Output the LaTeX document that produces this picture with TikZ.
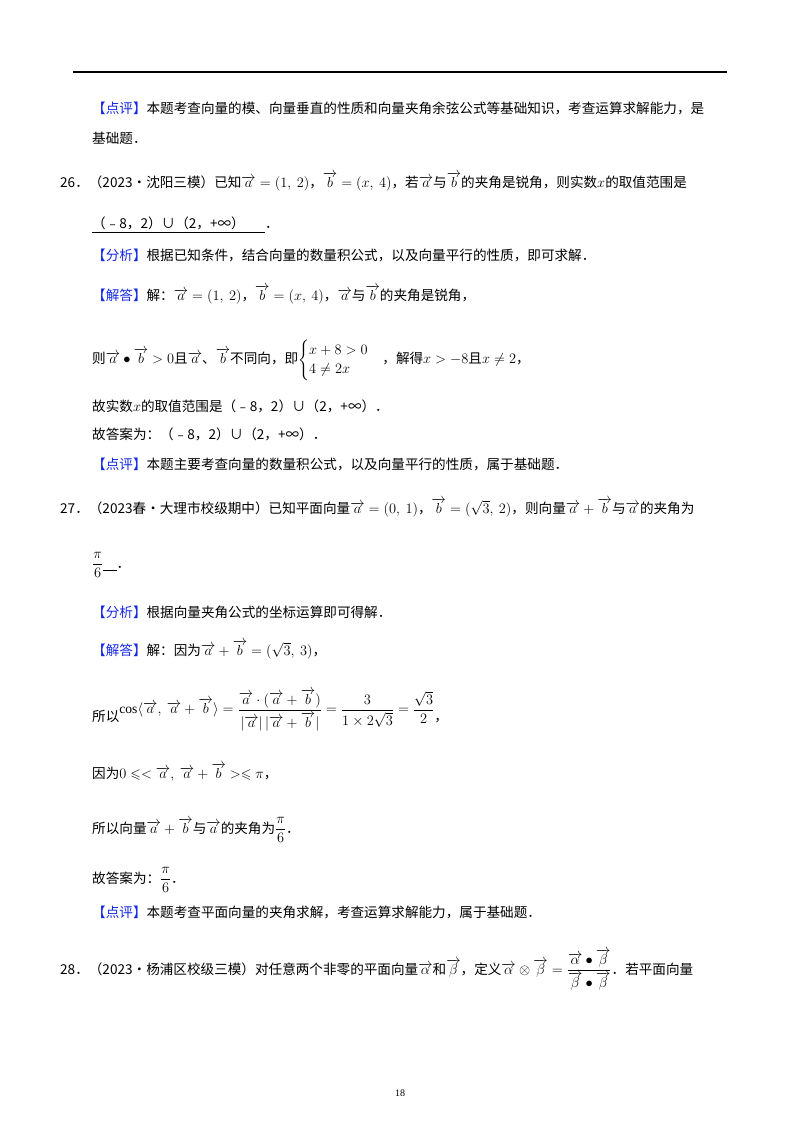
\documentclass[tikz,border=0pt]{standalone}
\usepackage{fontspec}
\usepackage{amsmath,amssymb}
\setmainfont{Liberation Serif}
\newfontfamily\cjk{Noto Sans CJK SC}
\definecolor{tagblue}{RGB}{20,40,230}
\begin{document}
\begin{tikzpicture}[x=1pt,y=-1pt,
  tx/.style={anchor=west,inner sep=0pt,font=\cjk\fontsize{13.6}{16}\selectfont},
  tag/.style={text=tagblue}]
\useasboundingbox[fill=white] (0,0) rectangle (800,1132);
\draw[line width=1.2pt] (73,72) -- (727,72);
\node[tx] (l1) at (92,108) {{\color{tagblue}【点评】}本题考查向量的模、向量垂直的性质和向量夹角余弦公式等基础知识，考查运算求解能力，是};
\node[tx] (l2) at (92,138) {基础题．};
\node[tx] (q26) at (60,182) {26．（2023•沈阳三模）已知$\overrightarrow{a}=(1,\ 2)$，$\overrightarrow{b}=(x,\ 4)$，若$\overrightarrow{a}$与$\overrightarrow{b}$的夹角是锐角，则实数$x$的取值范围是};
\node[tx] (a26) at (92,225) {\underline{（﹣8，2）∪（2，+∞）\hspace{1.5em}}．};
\node[tx] (f26) at (92,255) {{\color{tagblue}【分析】}根据已知条件，结合向量的数量积公式，以及向量平行的性质，即可求解．};
\node[tx] (j26) at (92,295) {{\color{tagblue}【解答】}解：$\overrightarrow{a}=(1,\ 2)$，$\overrightarrow{b}=(x,\ 4)$，$\overrightarrow{a}$与$\overrightarrow{b}$的夹角是锐角，};
\node[tx] (s26) at (92,360) {则$\overrightarrow{a}\bullet\overrightarrow{b}>0$且$\overrightarrow{a}$、$\overrightarrow{b}$不同向，即$\begin{cases}x+8>0\\4\neq 2x\end{cases}$，解得$x>-8$且$x\neq2$，};
\node[tx] (r26) at (92,406) {故实数$x$的取值范围是（﹣8，2）∪（2，+∞）．};
\node[tx] (d26) at (92,434) {故答案为：（﹣8，2）∪（2，+∞）．};
\node[tx] (p26) at (92,464) {{\color{tagblue}【点评】}本题主要考查向量的数量积公式，以及向量平行的性质，属于基础题．};
\node[tx] (q27) at (60,508) {27．（2023春•大理市校级期中）已知平面向量$\overrightarrow{a}=(0,\ 1)$，$\overrightarrow{b}=(\sqrt{3},\ 2)$，则向量$\overrightarrow{a}+\overrightarrow{b}$与$\overrightarrow{a}$的夹角为};
\node[tx] (a27) at (92,565) {$\dfrac{\pi}{6}$\underline{\hspace{1em}}．};
\node[tx] (f27) at (92,612) {{\color{tagblue}【分析】}根据向量夹角公式的坐标运算即可得解．};
\node[tx] (j27) at (92,650) {{\color{tagblue}【解答】}解：因为$\overrightarrow{a}+\overrightarrow{b}=(\sqrt{3},\ 3)$，};
\node[tx] (c27) at (92,710) {所以\raisebox{8pt}{$\cos\langle\overrightarrow{a},\ \overrightarrow{a}+\overrightarrow{b}\rangle=\dfrac{\overrightarrow{a}\cdot(\overrightarrow{a}+\overrightarrow{b})}{|\overrightarrow{a}|\,|\overrightarrow{a}+\overrightarrow{b}|}=\dfrac{3}{1\times2\sqrt{3}}=\dfrac{\sqrt{3}}{2}$}，};
\node[tx] (y27) at (92,772) {因为$0\leqslant<\overrightarrow{a},\ \overrightarrow{a}+\overrightarrow{b}>\leqslant\pi$，};
\node[tx] (s27) at (92,830) {所以向量$\overrightarrow{a}+\overrightarrow{b}$与$\overrightarrow{a}$的夹角为$\dfrac{\pi}{6}$．};
\node[tx] (d27) at (92,880) {故答案为：$\dfrac{\pi}{6}$．};
\node[tx] (p27) at (92,912) {{\color{tagblue}【点评】}本题考查平面向量的夹角求解，考查运算求解能力，属于基础题．};
\node[tx] (q28) at (60,970) {28．（2023•杨浦区校级三模）对任意两个非零的平面向量$\overrightarrow{\alpha}$和$\overrightarrow{\beta}$，定义$\overrightarrow{\alpha}\otimes\overrightarrow{\beta}=\dfrac{\overrightarrow{\alpha}\bullet\overrightarrow{\beta}}{\overrightarrow{\beta}\bullet\overrightarrow{\beta}}$．若平面向量};
\node[inner sep=0pt,font=\fontsize{10}{12}\selectfont] (pg) at (400,1093) {18};
\end{tikzpicture}
\end{document}
